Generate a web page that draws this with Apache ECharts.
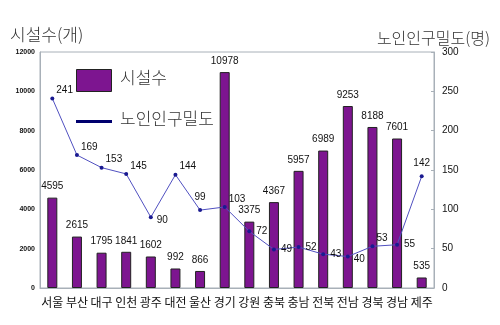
<!DOCTYPE html>
<html><head><meta charset="utf-8">
<script src="https://cdn.jsdelivr.net/npm/echarts@6/dist/echarts.min.js"></script>
<style>html,body{margin:0;padding:0;background:#fff}#c{width:500px;height:325px}</style>
</head><body><div id="c"></div>
<script>
const categories = ['서울','부산','대구','인천','광주','대전','울산','경기','강원','충북','충남','전북','전남','경북','경남','제주'];
const facilities = [4595,2615,1795,1841,1602,992,866,10978,3375,4367,5957,6989,9253,8188,7601,535];
const density = [241,169,153,145,90,144,99,103,72,49,52,43,40,53,55,142];
const leftTicks = [0,2000,4000,6000,8000,10000,12000];
const rightTicks = [0,50,100,150,200,250,300];
const densityLabelPos = ['tr','tr','tr','tr','br','tr','t','tr','r','r','r','r','br','tr','r','t'];

const posMap = {tr:{position:'right',offset:[-3,-8]}, r:{position:'right',offset:[0,0]}, t:{position:'top',offset:[0,-1]}, br:{position:'right',offset:[-1,3]}};
const lineData = density.map((v,i)=>({value:v,label:Object.assign({},posMap[densityLabelPos[i]])}));

const chart = echarts.init(document.getElementById('c'));
chart.setOption({
  animation:false,
  grid:{left:40,right:66,top:52,bottom:37,show:true,borderColor:'#a8b0b8',borderWidth:1},
  graphic:[
    {type:'text',left:10,top:26,style:{text:'시설수(개)',font:'300 17px "Noto Sans CJK KR"',fill:'#333'}},
    {type:'text',right:10,top:30,style:{text:'노인인구밀도(명)',font:'300 16px "Noto Sans CJK KR"',fill:'#333'}},
    {type:'rect',shape:{x:76.5,y:69.5,width:35,height:22},style:{fill:'#7d1590',stroke:'#222',lineWidth:1}},
    {type:'text',left:120,top:69,style:{text:'시설수',font:'300 17px "Noto Sans CJK KR"',fill:'#333'}},
    {type:'rect',shape:{x:76,y:120,width:36,height:3},style:{fill:'#00006e'}},
    {type:'text',left:120,top:110,style:{text:'노인인구밀도',font:'300 17px "Noto Sans CJK KR"',fill:'#333'}}
  ],
  xAxis:{type:'category',data:categories,
    axisLine:{lineStyle:{color:'#a8b0b8'}},
    axisTick:{inside:true,length:3,lineStyle:{color:'#a8b0b8'}},
    axisLabel:{color:'#111',fontSize:12,fontFamily:'"Noto Sans CJK KR"',margin:8,interval:0}},
  yAxis:[
    {type:'value',min:0,max:12000,interval:2000,
      axisLine:{show:true,lineStyle:{color:'#a8b0b8'}},axisTick:{show:false},splitLine:{show:false},
      axisLabel:{color:'#111',fontSize:7,fontFamily:'Liberation Sans',fontWeight:'bold',margin:5,
        formatter:v=>leftTicks.includes(v)?String(v):''}},
    {type:'value',min:0,max:300,interval:50,
      axisLine:{show:true,lineStyle:{color:'#a8b0b8'}},axisTick:{show:true,inside:true,length:3,lineStyle:{color:'#a8b0b8'}},splitLine:{show:false},
      axisLabel:{color:'#111',fontSize:10,fontFamily:'Liberation Sans',margin:8,
        formatter:v=>rightTicks.includes(v)?String(v):''}}
  ],
  series:[
    {type:'bar',name:'시설수',data:facilities,yAxisIndex:0,barWidth:10,
      itemStyle:{color:'#7d1590',borderColor:'#222',borderWidth:1},
      label:{show:true,position:'top',distance:6,color:'#111',fontSize:10,fontFamily:'Liberation Sans'}},
    {type:'line',name:'노인인구밀도',data:lineData,yAxisIndex:1,
      lineStyle:{color:'#5050c0',width:1},itemStyle:{color:'#1a1a90'},
      symbol:'circle',symbolSize:4,
      label:{show:true,color:'#111',fontSize:10,fontFamily:'Liberation Sans'}}
  ]
});
</script></body></html>
